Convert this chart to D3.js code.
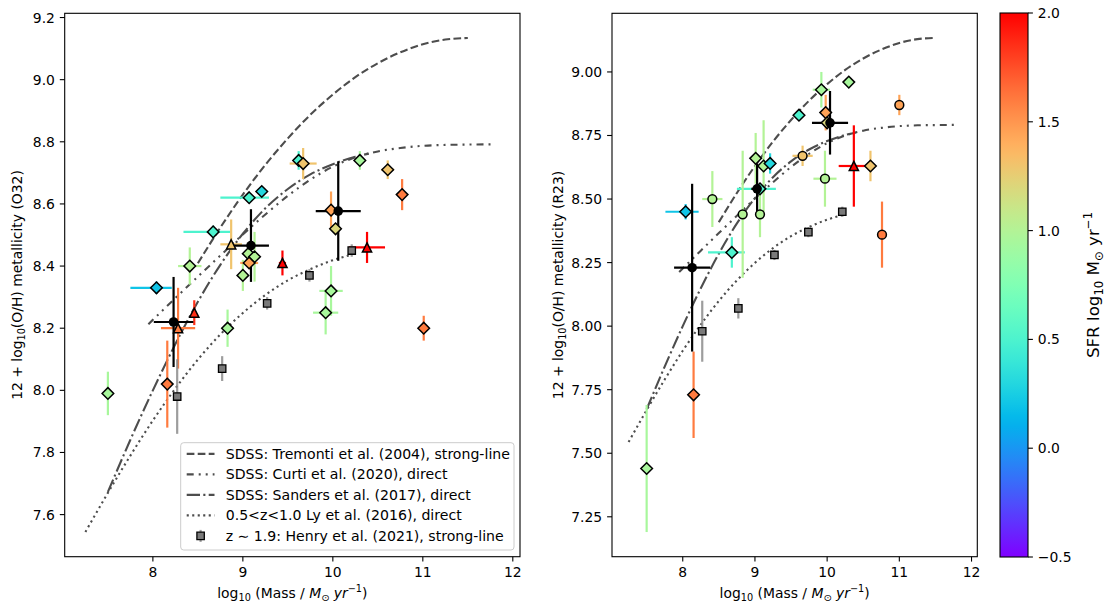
<!DOCTYPE html>
<html>
<head>
<meta charset="utf-8">
<script src="https://cdn.jsdelivr.net/npm/d3@7"></script>
<style>
  body { margin: 0; background: #fff; }
  text { font-family: "DejaVu Sans", sans-serif; fill: #000; }
</style>
</head>
<body>
<svg id="chart" width="1112" height="608"></svg>
<script>
// ---- Reference relations (log mass, 12+log(O/H)) ----
const tremonti = [[8.5,8.409],[8.75,8.524],[9.0,8.630],[9.25,8.726],[9.5,8.811],[9.75,8.887],
  [10.0,8.952],[10.25,9.008],[10.5,9.053],[10.75,9.088],[11.0,9.114],[11.25,9.129],[11.5,9.134]];
const curti = [[7.95,8.213],[8.0,8.227],[8.25,8.297],[8.5,8.366],[8.75,8.434],[9.0,8.502],[9.25,8.566],
  [9.5,8.626],[9.75,8.678],[10.0,8.720],[10.25,8.750],[10.5,8.769],[10.75,8.780],[11.0,8.787],
  [11.25,8.790],[11.5,8.791],[11.8,8.792]];
const sanders = [[7.5,7.673],[7.75,7.841],[8.0,8.000],[8.25,8.149],[8.5,8.285],[8.75,8.404],[9.0,8.504],
  [9.25,8.586],[9.5,8.648],[9.75,8.695],[10.0,8.728],[10.25,8.752],[10.4,8.762]];
const ly = [[7.25,7.544],[7.5,7.670],[7.75,7.790],[8.0,7.903],[8.25,8.006],[8.5,8.099],[8.75,8.180],
  [9.0,8.249],[9.25,8.307],[9.5,8.354],[9.75,8.390],[10.0,8.419],[10.2,8.436]];

// Henry et al. (2021) stacks: mass, 12+log(O/H), yerr
const henry = [[8.27,7.98,0.12],[8.77,8.07,0.04],[9.27,8.28,0.02],[9.74,8.37,0.02],[10.21,8.45,0.02]];

// Galaxies, O32 calibration: mass, 12+log(O/H), SFR, xerr-, xerr+, yerr
const o32Diamonds = [
  [7.50,7.99,0.95,0,0,0.07],[8.04,8.33,0.2,0.29,0.17,0.02],[8.41,8.40,1.0,0.13,0.13,0.06],
  [8.67,8.51,0.5,0.33,0.19,0.02],[8.16,8.02,1.6,0,0,0.14],[8.83,8.20,0.95,0.07,0.07,0.06],
  [9.00,8.37,1.0,0,0,0.05],[9.06,8.44,1.0,0,0,0],[9.13,8.43,1.0,0,0,0.08],
  [9.07,8.41,1.45,0.1,0.1,0.02],[9.07,8.62,0.5,0.32,0.22,0],[9.21,8.64,0.3,0,0,0],
  [9.62,8.74,0.5,0,0,0.03],[9.67,8.73,1.3,0.15,0.15,0.05],[10.30,8.74,0.95,0,0,0.03],
  [10.61,8.71,1.3,0.07,0.07,0.03],[10.77,8.63,1.6,0,0,0.05],[9.98,8.58,1.45,0,0,0.06],
  [10.03,8.52,1.2,0.06,0.06,0],[9.98,8.32,0.95,0.13,0.13,0.08],[9.92,8.25,0.95,0.14,0.14,0.07],
  [11.01,8.20,1.6,0,0,0.04]
];
const o32Triangles = [
  [8.28,8.20,1.6,0.19,0.19,0.13],[8.46,8.25,1.85,0,0,0.04],[8.87,8.47,1.3,0.12,0.12,0.08],
  [9.44,8.41,2.0,0.04,0.04,0.04],[10.38,8.46,2.0,0.2,0.2,0.05]
];
// Stacked bins: mass, 12+log(O/H), xerr, yerr
const o32Stacks = [[8.23,8.22,0.22,0.145],[9.09,8.466,0.2,0.117],[10.06,8.577,0.25,0.16]];

// Galaxies, R23 calibration
const r23Diamonds = [
  [7.50,7.44,0.95,0,0,0.25],[8.04,8.45,0.2,0.28,0.18,0.03],[8.15,7.73,1.6,0,0,0.17],
  [8.68,8.29,0.5,0.33,0.18,0.06],[9.01,8.66,1.0,0,0,0.10],[9.07,8.54,0.5,0.32,0.22,0],
  [9.12,8.63,1.0,0,0,0.18],[9.21,8.64,0.3,0,0,0.04],[9.61,8.83,0.5,0,0,0],
  [9.92,8.93,0.95,0.12,0.12,0.07],[10.30,8.96,0.95,0,0,0],[9.98,8.84,1.45,0,0,0.07],
  [10.00,8.80,1.2,0.06,0.06,0],[10.60,8.63,1.3,0,0,0.06]
];
const r23Circles = [
  [8.41,8.50,1.0,0.14,0.14,0.11],[8.83,8.44,1.0,0,0,0.25],[9.07,8.44,1.0,0,0,0.09],
  [9.66,8.67,1.3,0.14,0.14,0.04],[9.97,8.58,1.0,0.16,0.16,0.11],[11.00,8.87,1.45,0,0,0.04],
  [10.76,8.36,1.6,0,0,0.13]
];
const r23Triangles = [[10.37,8.63,2.0,0.21,0.21,0.16]];
const r23Stacks = [[8.13,8.23,0.25,0.33],[9.03,8.54,0.08,0.10],[10.04,8.80,0.25,0.125]];

const massTicks = [8, 9, 10, 11, 12];
const o32Ticks = [7.6, 7.8, 8.0, 8.2, 8.4, 8.6, 8.8, 9.0, 9.2];
const r23Ticks = [7.25, 7.5, 7.75, 8.0, 8.25, 8.5, 8.75, 9.0];
const sfrTicks = [-0.5, 0.0, 0.5, 1.0, 1.5, 2.0];
const legendLabels = [
  "SDSS: Tremonti et al. (2004), strong-line",
  "SDSS: Curti et al. (2020), direct",
  "SDSS: Sanders et al. (2017), direct",
  "0.5<z<1.0 Ly et al. (2016), direct",
  "z ∼ 1.9: Henry et al. (2021), strong-line"
];

// matplotlib "rainbow" colormap
function rainbow(t) {
  t = Math.max(0, Math.min(1, t));
  const r = Math.min(1, Math.abs(2 * t - 0.5));
  const g = Math.sin(Math.PI * t);
  const b = Math.cos(Math.PI * t / 2);
  return d3.rgb(r * 255, g * 255, b * 255).toString();
}
const sfrNorm = d3.scaleLinear().domain([-0.5, 2.0]).range([0, 1]).clamp(true);
const sfrColor = s => rainbow(sfrNorm(s));

const svg = d3.select("#chart");
const FS = 13.9;
const lineColor = "#4d4d4d";
const curveStyles = [
  { data: tremonti, dash: "7.7,3.3" },
  { data: curti, dash: "7,5,2,5,2,5" },
  { data: sanders, dash: "13.3,3.3,2.1,3.3" },
  { data: ly, dash: "2.1,3.4" }
];

function symbolPath(kind, r) {
  if (kind === "diamond") return `M0,${-r}L${r},0L0,${r}L${-r},0Z`;
  if (kind === "triangle") return `M0,${-r}L${r},${r}L${-r},${r}Z`;
  if (kind === "square") return `M${-r},${-r}H${r}V${r}H${-r}Z`;
  return d3.symbol(d3.symbolCircle, Math.PI * r * r)();
}

function drawPanel(p) {
  const x = d3.scaleLinear().domain([7.02, 12.08]).range([p.left, p.right]);
  const y = d3.scaleLinear().domain(p.yDomain).range([p.bottom, p.top]);
  const g = svg.append("g");

  // reference relations
  const line = d3.line().x(d => x(d[0])).y(d => y(d[1])).curve(d3.curveMonotoneX);
  curveStyles.forEach(c => {
    g.append("path").attr("d", line(c.data)).attr("fill", "none")
      .attr("stroke", lineColor).attr("stroke-width", 2.1).attr("stroke-dasharray", c.dash);
  });

  // error bars
  function errBars(rows, color, xlo, xhi, yerr, width, opacity) {
    rows.forEach(d => {
      const c = color(d);
      const el = xlo(d), eh = xhi(d), ey = yerr(d);
      if (el || eh) g.append("line").attr("x1", x(d[0] - el)).attr("x2", x(d[0] + eh))
        .attr("y1", y(d[1])).attr("y2", y(d[1])).attr("stroke", c).attr("stroke-width", width).attr("opacity", opacity);
      if (ey) g.append("line").attr("x1", x(d[0])).attr("x2", x(d[0]))
        .attr("y1", y(d[1] - ey)).attr("y2", y(d[1] + ey)).attr("stroke", c).attr("stroke-width", width).attr("opacity", opacity);
    });
  }
  function markers(rows, kind, r, fill, stroke, sw) {
    g.selectAll(null).data(rows).enter().append("path")
      .attr("d", symbolPath(kind, r))
      .attr("transform", d => `translate(${x(d[0])},${y(d[1])})`)
      .attr("fill", fill).attr("stroke", stroke).attr("stroke-width", sw);
  }
  const galColor = d => sfrColor(d[2]);
  const galGroups = p.groups;
  galGroups.forEach(gr => errBars(gr.rows, galColor, d => d[3], d => d[4], d => d[5], 2.2, 1));
  errBars(henry, () => "#8c8c8c", () => 0, () => 0, d => d[2], 2.2, 0.85);
  errBars(p.stacks, () => "#000", d => d[2], d => d[2], d => d[3], 2.2, 1);
  galGroups.forEach(gr => markers(gr.rows, gr.kind, gr.r, galColor, "#000", 1.5));
  markers(henry, "square", 3.7, "#7a7a7a", "#000", 1.3);
  markers(p.stacks, "circle", 4.8, "#000", "#000", 0);

  // frame, ticks and labels
  g.append("rect").attr("x", p.left).attr("y", p.top).attr("width", p.right - p.left)
    .attr("height", p.bottom - p.top).attr("fill", "none").attr("stroke", "#000").attr("stroke-width", 1.1);
  massTicks.forEach(t => {
    g.append("line").attr("x1", x(t)).attr("x2", x(t)).attr("y1", p.bottom).attr("y2", p.bottom + 4.9)
      .attr("stroke", "#000").attr("stroke-width", 1.1);
    g.append("text").attr("x", x(t)).attr("y", p.bottom + 9.8).attr("dy", "0.76em")
      .attr("text-anchor", "middle").attr("font-size", FS).text(t);
  });
  p.yTicks.forEach(t => {
    g.append("line").attr("x1", p.left - 4.9).attr("x2", p.left).attr("y1", y(t)).attr("y2", y(t))
      .attr("stroke", "#000").attr("stroke-width", 1.1);
    g.append("text").attr("x", p.left - 9.8).attr("y", y(t)).attr("dy", "0.36em")
      .attr("text-anchor", "end").attr("font-size", FS).text(d3.format(p.yFmt)(t));
  });

  // x label
  const xl = g.append("text").attr("x", (p.left + p.right) / 2).attr("y", 598)
    .attr("text-anchor", "middle").attr("font-size", FS);
  xl.append("tspan").text("log");
  xl.append("tspan").attr("font-size", FS * 0.7).attr("dy", 3).text("10");
  xl.append("tspan").attr("dy", -3).text(" (Mass / ");
  xl.append("tspan").attr("font-style", "italic").text("M");
  xl.append("tspan").attr("font-size", FS * 0.7).attr("dy", 3).text("⊙");
  xl.append("tspan").attr("dy", -3).attr("font-style", "italic").text(" yr");
  xl.append("tspan").attr("font-size", FS * 0.7).attr("dy", -6).text("−1");
  xl.append("tspan").attr("dy", 6).text(")");

  // y label
  const yl = g.append("text").attr("transform", `translate(${p.yLabelX},${(p.top + p.bottom) / 2}) rotate(-90)`)
    .attr("text-anchor", "middle").attr("font-size", FS);
  yl.append("tspan").text("12 + log");
  yl.append("tspan").attr("font-size", FS * 0.7).attr("dy", 3).text("10");
  yl.append("tspan").attr("dy", -3).text(`(O/H) metallicity (${p.calib})`);

  return { g, x, y };
}

drawPanel({
  left: 64.7, right: 520, top: 13.3, bottom: 556.7, yDomain: [7.4645, 9.2136],
  yTicks: o32Ticks, yFmt: ".1f", calib: "O32", yLabelX: 22,
  groups: [
    { rows: o32Diamonds, kind: "diamond", r: 5.8 },
    { rows: o32Triangles, kind: "triangle", r: 4.6 }
  ],
  stacks: o32Stacks
});
drawPanel({
  left: 612, right: 977.3, top: 13.3, bottom: 556.7, yDomain: [7.093, 9.2307],
  yTicks: r23Ticks, yFmt: ".2f", calib: "R23", yLabelX: 563,
  groups: [
    { rows: r23Diamonds, kind: "diamond", r: 5.8 },
    { rows: r23Circles, kind: "circle", r: 4.4 },
    { rows: r23Triangles, kind: "triangle", r: 4.6 }
  ],
  stacks: r23Stacks
});

// legend
(function () {
  const lg = svg.append("g");
  const bx = 180.7, by = 442.7, bw = 333.3, bh = 107.3;
  lg.append("rect").attr("x", bx).attr("y", by).attr("width", bw).attr("height", bh).attr("rx", 3)
    .attr("fill", "#fff").attr("fill-opacity", 0.8).attr("stroke", "#cccccc").attr("stroke-width", 1);
  const rowY = i => 453.9 + i * 20.5;
  curveStyles.forEach((c, i) => {
    lg.append("line").attr("x1", 186.7).attr("x2", 214.5).attr("y1", rowY(i)).attr("y2", rowY(i))
      .attr("stroke", lineColor).attr("stroke-width", 2.1).attr("stroke-dasharray", c.dash);
  });
  lg.append("line").attr("x1", 200.6).attr("x2", 200.6).attr("y1", rowY(4) - 6).attr("y2", rowY(4) + 6)
    .attr("stroke", "#8c8c8c").attr("stroke-width", 2.2).attr("opacity", 0.85);
  lg.append("path").attr("d", symbolPath("square", 3.7)).attr("transform", `translate(200.6,${rowY(4)})`)
    .attr("fill", "#7a7a7a").attr("stroke", "#000").attr("stroke-width", 1.3);
  legendLabels.forEach((t, i) => {
    lg.append("text").attr("x", 225.7).attr("y", rowY(i)).attr("dy", "0.36em").attr("font-size", 14.1).text(t);
  });
})();

// colour bar
(function () {
  const cx0 = 1000, cx1 = 1028, cy0 = 13, cy1 = 557;
  const cy = d3.scaleLinear().domain([-0.5, 2.0]).range([cy1, cy0]);
  const defs = svg.append("defs");
  const grad = defs.append("linearGradient").attr("id", "sfrGrad")
    .attr("x1", 0).attr("y1", 1).attr("x2", 0).attr("y2", 0);
  d3.range(0, 1.0001, 0.02).forEach(t => {
    grad.append("stop").attr("offset", t).attr("stop-color", rainbow(t));
  });
  svg.append("rect").attr("x", cx0).attr("y", cy0).attr("width", cx1 - cx0).attr("height", cy1 - cy0)
    .attr("fill", "url(#sfrGrad)").attr("stroke", "#000").attr("stroke-width", 1.1);
  sfrTicks.forEach(t => {
    svg.append("line").attr("x1", cx1).attr("x2", cx1 + 4.9).attr("y1", cy(t)).attr("y2", cy(t))
      .attr("stroke", "#000").attr("stroke-width", 1.1);
    svg.append("text").attr("x", cx1 + 9.8).attr("y", cy(t)).attr("dy", "0.36em").attr("font-size", FS)
      .text(d3.format(".1f")(t).replace("-", "−"));
  });
  const cl = svg.append("text").attr("transform", `translate(1099,${(cy0 + cy1) / 2}) rotate(-90)`)
    .attr("text-anchor", "middle").attr("font-size", 16.7);
  cl.append("tspan").text("SFR log");
  cl.append("tspan").attr("font-size", 16.7 * 0.7).attr("dy", 4).text("10");
  cl.append("tspan").attr("dy", -4).text(" M");
  cl.append("tspan").attr("font-size", 16.7 * 0.7).attr("dy", 4).text("⊙");
  cl.append("tspan").attr("dy", -4).text(" yr");
  cl.append("tspan").attr("font-size", 16.7 * 0.7).attr("dy", -7).text("−1");
})();
</script>
</body>
</html>
